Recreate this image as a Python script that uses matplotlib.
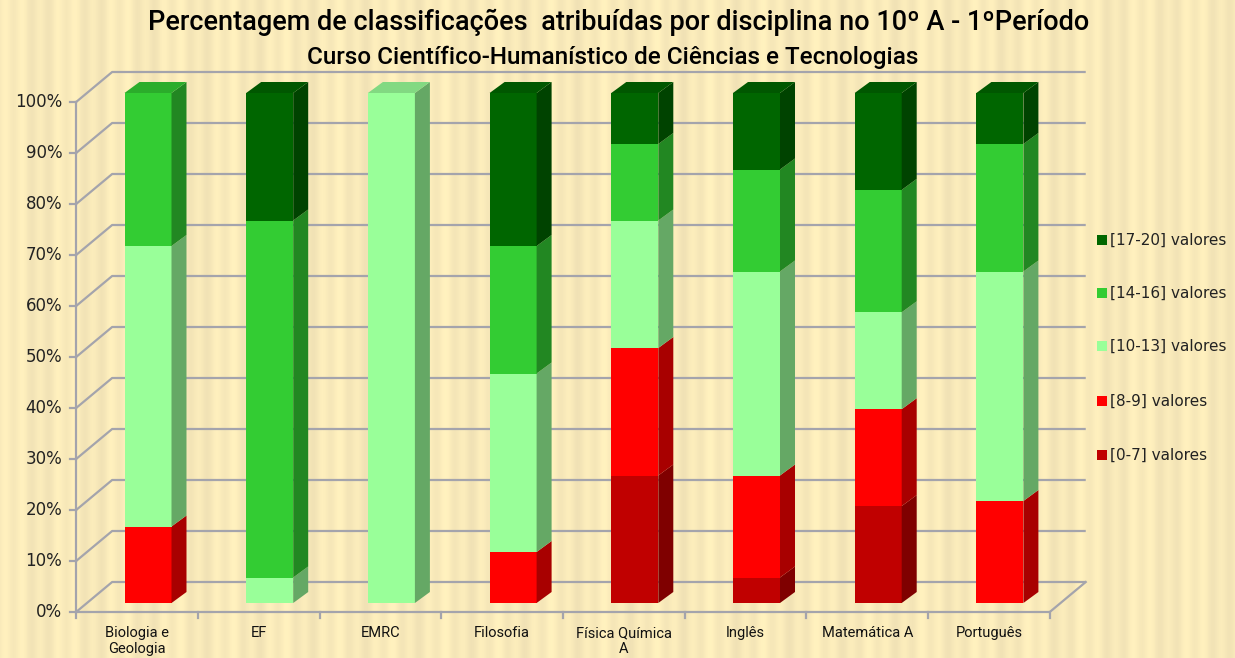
import numpy as np
import matplotlib.pyplot as plt
from matplotlib.patches import Polygon, Rectangle
from matplotlib.colors import to_rgb

# ---- data (percent of grades per subject) ----
subjects = ["Biologia e\nGeologia", "EF", "EMRC", "Filosofia", "Física Química\nA",
            "Inglês", "Matemática A", "Português"]
band_labels = ["[0-7] valores", "[8-9] valores", "[10-13] valores",
               "[14-16] valores", "[17-20] valores"]
pct_0_7 = [0, 0, 0, 0, 25, 5, 19, 0]
pct_8_9 = [15, 0, 0, 10, 25, 20, 19, 20]
pct_10_13 = [55, 5, 100, 35, 25, 40, 19, 45]
pct_14_16 = [30, 70, 0, 25, 15, 20, 24, 25]
pct_17_20 = [0, 25, 0, 30, 10, 15, 19, 10]
band_colors = ["#C00000", "#FF0000", "#99FF99", "#33CC33", "#006600"]
yticks = list(range(0, 101, 10))

W, H = 1235, 658
fig = plt.figure(figsize=(W / 100, H / 100), dpi=100)
ax = fig.add_axes([0, 0, 1, 1])

# pixel scale of the pseudo-3D frame
sx, sy = 121.7, 5.1          # px per category / px per percent
x0px, y0px = 137, 612        # front plane: category 0 centre, 0% level
xl = -x0px / sx
yb = (y0px - H) / sy
ax.set_xlim(xl, xl + W / sx)
ax.set_ylim(yb, yb + H / sy)
ax.axis("off")

# background: cream with faint vertical stripes
xx = np.linspace(0, 1, W)
stripes = 0.02 * np.sin(xx * 2 * np.pi * 70) + 0.012 * np.sin(xx * 2 * np.pi * 23)
base = np.array([249, 234, 186]) / 255
img = np.clip(base[None, None, :] + stripes[None, :, None] * np.array([1, 1, 0.6]), 0, 1)
img = np.repeat(img, 2, axis=0)
ax.imshow(img, extent=ax.get_xlim() + ax.get_ylim(), aspect="auto", zorder=0)

# wall depth (front plane -> back plane)
DX, DY = 36 / sx, 30 / sy
n = len(subjects)
xa, xb = -0.5, n - 0.5
grid_c = "#A4A4AC"
for v in yticks:
    ax.plot([xa, xa + DX, xb + DX], [v, v + DY, v + DY], color=grid_c, lw=1.6, zorder=1,
            solid_capstyle="butt")
    ax.plot([xa - 6 / sx, xa], [v, v], color=grid_c, lw=1.6, zorder=1)
    ax.text(xa - 14 / sx, v, f"{v}%", ha="right", va="center", fontsize=12,
            color="#222222", family="DejaVu Sans")
# floor front edge, right edge, axis
ax.plot([xa, xb, xb + DX], [0, 0, DY], color=grid_c, lw=1.6, zorder=1)
ax.plot([xa, xa], [0, 100], color=grid_c, lw=1.6, zorder=1)
for k in range(n + 1):
    ax.plot([xa + k, xa + k], [0, -6 / sy], color=grid_c, lw=1.6, zorder=1)
for k, name in enumerate(subjects):
    ax.text(k, -14 / sy, name, ha="center", va="top", fontsize=10.5,
            family="Roboto", color="#111111", linespacing=1.2)

# bars
bw = 47 / sx
bdx, bdy = 15 / sx, 11 / sy
fx, fy = 11 / sx, 9 / sy      # bar front offset from front plane
series = [pct_0_7, pct_8_9, pct_10_13, pct_14_16, pct_17_20]


def shade(c, f):
    return tuple(np.array(to_rgb(c)) * f)


for i in range(n):
    left = i + fx - bw / 2
    bottom = fy
    top_idx = max(j for j in range(5) if series[j][i] > 0)
    for j in range(5):
        h = series[j][i]
        if h <= 0:
            continue
        c = band_colors[j]
        ax.add_patch(Rectangle((left, bottom), bw, h, facecolor=c, edgecolor="none", zorder=3))
        r = left + bw
        ax.add_patch(Polygon([(r, bottom), (r + bdx, bottom + bdy), (r + bdx, bottom + h + bdy),
                              (r, bottom + h)], closed=True, facecolor=shade(c, 0.66),
                             edgecolor="none", zorder=3))
        if j == top_idx:
            t = bottom + h
            ax.add_patch(Polygon([(left, t), (left + bdx, t + bdy), (r + bdx, t + bdy), (r, t)],
                                 closed=True, facecolor=shade(c, 0.85), edgecolor="none",
                                 zorder=3))
        bottom += h

# legend (top band first)
for j, yy in zip(range(4, -1, -1), [240, 293, 346, 401, 455]):
    ax.add_patch(Rectangle((1097 / sx + xl, (y0px - yy) / sy - 5 / sy), 10 / sx, 10 / sy,
                           facecolor=band_colors[j], edgecolor="none", zorder=3))
    ax.text(1110 / sx + xl, (y0px - yy) / sy, band_labels[j], ha="left", va="center",
            fontsize=11, color="#222222", family="DejaVu Sans")

# titles
fig.text(0.5 * (147 + 1090) / W, 1 - 22 / H,
         "Percentagem de classificações  atribuídas por disciplina no 10º A - 1ºPeríodo",
         ha="center", va="center", fontsize=19.5, family="Roboto", weight="medium",
         color="black")
fig.text(0.5 * (303 + 923) / W, 1 - 57 / H,
         "Curso Científico-Humanístico de Ciências e Tecnologias",
         ha="center", va="center", fontsize=17.5, family="Roboto", weight="medium",
         color="black")

fig.savefig("out.png", dpi=100)
